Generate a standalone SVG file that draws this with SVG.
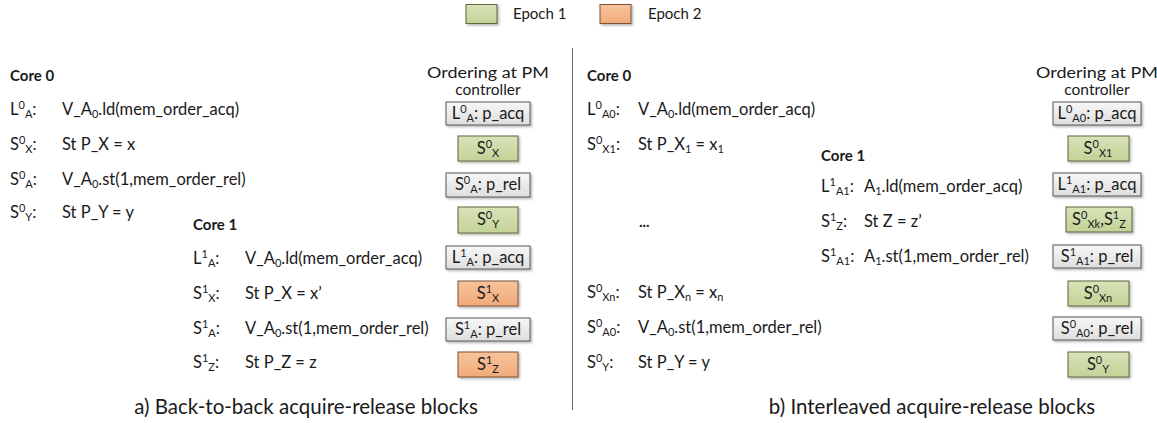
<svg xmlns="http://www.w3.org/2000/svg" width="1157" height="423" viewBox="0 0 1157 423">
  <defs>
    <linearGradient id="gGray" x1="0" y1="0" x2="0" y2="1">
      <stop offset="0" stop-color="#f7f7f7"/>
      <stop offset="1" stop-color="#dedede"/>
    </linearGradient>
    <linearGradient id="gGreen" x1="0" y1="0" x2="0" y2="1">
      <stop offset="0" stop-color="#d9e3b8"/>
      <stop offset="1" stop-color="#c3d297"/>
    </linearGradient>
    <linearGradient id="gOrange" x1="0" y1="0" x2="0" y2="1">
      <stop offset="0" stop-color="#f7c39c"/>
      <stop offset="1" stop-color="#f1aa79"/>
    </linearGradient>
    <filter id="shadow" x="-10%" y="-20%" width="130%" height="160%">
      <feDropShadow dx="1.5" dy="1.5" stdDeviation="1" flood-color="#000" flood-opacity="0.3"/>
    </filter>
  </defs>
  <style>
    text { font-family: Lato, "Liberation Sans", sans-serif; fill: #1a1a1a; }
    .t { font-size: 16.5px; }
    .h { font-size: 15px; font-weight: bold; }
    .hd { font-size: 15.5px; text-anchor: middle; }
    .lg { font-size: 15px; }
    .s { font-size: 11px; }
    .cap { font-size: 20.5px; text-anchor: middle; }
    .c { font-size: 16.5px; text-anchor: middle; }
    .gray { fill: url(#gGray); stroke: #595959; stroke-width: 1; filter: url(#shadow); }
    .green { fill: url(#gGreen); stroke: #5b6640; stroke-width: 1; filter: url(#shadow); }
    .orange { fill: url(#gOrange); stroke: #7a5338; stroke-width: 1; filter: url(#shadow); }
    .div { stroke: #6e6e6e; stroke-width: 1; }
  </style>

  <rect width="1157" height="423" fill="#ffffff"/>

  <!-- legend -->
  <g id="legend">
    <rect class="green" x="466" y="4.5" width="31" height="19"/>
    <text class="lg" x="513" y="19">Epoch 1</text>
    <rect class="orange" x="600" y="4.5" width="31" height="19"/>
    <text class="lg" x="648" y="19">Epoch 2</text>
  </g>

  <!-- panel separator -->
  <line class="div" x1="572.5" y1="48" x2="572.5" y2="410"/>

  <!-- ===== a) back-to-back blocks ===== -->
  <g id="a-core0">
    <text class="h" x="10" y="81">Core 0</text>
    <text class="t" x="10" y="115">L<tspan class="s" dy="-6">0</tspan><tspan class="s" dy="9">A</tspan><tspan dy="-3">:</tspan></text>
    <text class="t" x="62" y="115">V_A<tspan class="s" dy="3">0</tspan><tspan dy="-3">.ld(mem_order_acq)</tspan></text>
    <text class="t" x="10" y="150">S<tspan class="s" dy="-6">0</tspan><tspan class="s" dy="9">X</tspan><tspan dy="-3">:</tspan></text>
    <text class="t" x="62" y="150">St P_X = x</text>
    <text class="t" x="10" y="185">S<tspan class="s" dy="-6">0</tspan><tspan class="s" dy="9">A</tspan><tspan dy="-3">:</tspan></text>
    <text class="t" x="62" y="185">V_A<tspan class="s" dy="3">0</tspan><tspan dy="-3">.st(1,mem_order_rel)</tspan></text>
    <text class="t" x="10" y="218">S<tspan class="s" dy="-6">0</tspan><tspan class="s" dy="9">Y</tspan><tspan dy="-3">:</tspan></text>
    <text class="t" x="62" y="218">St P_Y = y</text>
  </g>

  <g id="a-core1">
    <text class="h" x="193" y="230">Core 1</text>
    <text class="t" x="193" y="264">L<tspan class="s" dy="-6">1</tspan><tspan class="s" dy="9">A</tspan><tspan dy="-3">:</tspan></text>
    <text class="t" x="245" y="264">V_A<tspan class="s" dy="3">0</tspan><tspan dy="-3">.ld(mem_order_acq)</tspan></text>
    <text class="t" x="193" y="299">S<tspan class="s" dy="-6">1</tspan><tspan class="s" dy="9">X</tspan><tspan dy="-3">:</tspan></text>
    <text class="t" x="245" y="299">St P_X = x’</text>
    <text class="t" x="193" y="334">S<tspan class="s" dy="-6">1</tspan><tspan class="s" dy="9">A</tspan><tspan dy="-3">:</tspan></text>
    <text class="t" x="245" y="334">V_A<tspan class="s" dy="3">0</tspan><tspan dy="-3">.st(1,mem_order_rel)</tspan></text>
    <text class="t" x="193" y="368">S<tspan class="s" dy="-6">1</tspan><tspan class="s" dy="9">Z</tspan><tspan dy="-3">:</tspan></text>
    <text class="t" x="245" y="368">St P_Z = z</text>
  </g>

  <g id="a-order">
    <text class="hd" x="488" y="78" textLength="122" lengthAdjust="spacingAndGlyphs">Ordering at PM</text>
    <text class="hd" x="488" y="95">controller</text>

    <g id="a-L0A">
      <rect class="gray" x="446" y="102" width="84" height="23"/>
      <text class="c" x="488" y="119">L<tspan class="s" dy="-6">0</tspan><tspan class="s" dy="9">A</tspan><tspan dy="-3">: p_acq</tspan></text>
    </g>
    <g id="a-S0X">
      <rect class="green" x="458" y="136" width="60" height="25"/>
      <text class="c" x="488" y="154">S<tspan class="s" dy="-6">0</tspan><tspan class="s" dy="9">X</tspan></text>
    </g>
    <g id="a-S0A">
      <rect class="gray" x="446" y="173" width="84" height="24"/>
      <text class="c" x="488" y="190">S<tspan class="s" dy="-6">0</tspan><tspan class="s" dy="9">A</tspan><tspan dy="-3">: p_rel</tspan></text>
    </g>
    <g id="a-S0Y">
      <rect class="green" x="458" y="207" width="60" height="26"/>
      <text class="c" x="488" y="225">S<tspan class="s" dy="-6">0</tspan><tspan class="s" dy="9">Y</tspan></text>
    </g>
    <g id="a-L1A">
      <rect class="gray" x="446" y="246" width="84" height="23"/>
      <text class="c" x="488" y="263">L<tspan class="s" dy="-6">1</tspan><tspan class="s" dy="9">A</tspan><tspan dy="-3">: p_acq</tspan></text>
    </g>
    <g id="a-S1X">
      <rect class="orange" x="458" y="281" width="60" height="25"/>
      <text class="c" x="488" y="299">S<tspan class="s" dy="-6">1</tspan><tspan class="s" dy="9">X</tspan></text>
    </g>
    <g id="a-S1A">
      <rect class="gray" x="446" y="318" width="84" height="23"/>
      <text class="c" x="488" y="335">S<tspan class="s" dy="-6">1</tspan><tspan class="s" dy="9">A</tspan><tspan dy="-3">: p_rel</tspan></text>
    </g>
    <g id="a-S1Z">
      <rect class="orange" x="458" y="352" width="60" height="25"/>
      <text class="c" x="488" y="370">S<tspan class="s" dy="-6">1</tspan><tspan class="s" dy="9">Z</tspan></text>
    </g>
  </g>

  <text class="cap" x="306" y="414">a) Back-to-back acquire-release blocks</text>

  <!-- ===== b) interleaved blocks ===== -->
  <g id="b-core0">
    <text class="h" x="587" y="81">Core 0</text>
    <text class="t" x="587" y="115">L<tspan class="s" dy="-6">0</tspan><tspan class="s" dy="9">A0</tspan><tspan dy="-3">:</tspan></text>
    <text class="t" x="638" y="115">V_A<tspan class="s" dy="3">0</tspan><tspan dy="-3">.ld(mem_order_acq)</tspan></text>
    <text class="t" x="587" y="150">S<tspan class="s" dy="-6">0</tspan><tspan class="s" dy="9">X1</tspan><tspan dy="-3">:</tspan></text>
    <text class="t" x="638" y="150">St P_X<tspan class="s" dy="3">1</tspan><tspan dy="-3"> = x</tspan><tspan class="s" dy="3">1</tspan></text>
    <text class="h" x="639" y="227" font-size="17">...</text>
    <text class="t" x="587" y="298">S<tspan class="s" dy="-6">0</tspan><tspan class="s" dy="9">Xn</tspan><tspan dy="-3">:</tspan></text>
    <text class="t" x="638" y="298">St P_X<tspan class="s" dy="3">n</tspan><tspan dy="-3"> = x</tspan><tspan class="s" dy="3">n</tspan></text>
    <text class="t" x="587" y="333">S<tspan class="s" dy="-6">0</tspan><tspan class="s" dy="9">A0</tspan><tspan dy="-3">:</tspan></text>
    <text class="t" x="638" y="333">V_A<tspan class="s" dy="3">0</tspan><tspan dy="-3">.st(1,mem_order_rel)</tspan></text>
    <text class="t" x="587" y="368">S<tspan class="s" dy="-6">0</tspan><tspan class="s" dy="9">Y</tspan><tspan dy="-3">:</tspan></text>
    <text class="t" x="638" y="368">St P_Y = y</text>
  </g>

  <g id="b-core1">
    <text class="h" x="821" y="161">Core 1</text>
    <text class="t" x="821" y="192">L<tspan class="s" dy="-6">1</tspan><tspan class="s" dy="9">A1</tspan><tspan dy="-3">:</tspan></text>
    <text class="t" x="864" y="192">A<tspan class="s" dy="3">1</tspan><tspan dy="-3">.ld(mem_order_acq)</tspan></text>
    <text class="t" x="821" y="227">S<tspan class="s" dy="-6">1</tspan><tspan class="s" dy="9">Z</tspan><tspan dy="-3">:</tspan></text>
    <text class="t" x="864" y="227">St Z = z’</text>
    <text class="t" x="821" y="262">S<tspan class="s" dy="-6">1</tspan><tspan class="s" dy="9">A1</tspan><tspan dy="-3">:</tspan></text>
    <text class="t" x="864" y="262">A<tspan class="s" dy="3">1</tspan><tspan dy="-3">.st(1,mem_order_rel)</tspan></text>
  </g>

  <g id="b-order">
    <text class="hd" x="1097" y="78" textLength="122" lengthAdjust="spacingAndGlyphs">Ordering at PM</text>
    <text class="hd" x="1097" y="95">controller</text>

    <g id="b-L0A0">
      <rect class="gray" x="1053" y="102" width="88" height="23"/>
      <text class="c" x="1097" y="119">L<tspan class="s" dy="-6">0</tspan><tspan class="s" dy="9">A0</tspan><tspan dy="-3">: p_acq</tspan></text>
    </g>
    <g id="b-S0X1">
      <rect class="green" x="1068" y="136" width="61" height="25"/>
      <text class="c" x="1098" y="154">S<tspan class="s" dy="-6">0</tspan><tspan class="s" dy="9">X1</tspan></text>
    </g>
    <g id="b-L1A1">
      <rect class="gray" x="1053" y="173" width="88" height="23"/>
      <text class="c" x="1097" y="190">L<tspan class="s" dy="-6">1</tspan><tspan class="s" dy="9">A1</tspan><tspan dy="-3">: p_acq</tspan></text>
    </g>
    <g id="b-S0XkS1Z">
      <rect class="green" x="1066" y="207" width="66" height="25"/>
      <text class="c" x="1099" y="225">S<tspan class="s" dy="-6">0</tspan><tspan class="s" dy="9">Xk</tspan><tspan dy="-3">,S</tspan><tspan class="s" dy="-6">1</tspan><tspan class="s" dy="9">Z</tspan></text>
    </g>
    <g id="b-S1A1">
      <rect class="gray" x="1053" y="245" width="88" height="23"/>
      <text class="c" x="1097" y="262">S<tspan class="s" dy="-6">1</tspan><tspan class="s" dy="9">A1</tspan><tspan dy="-3">: p_rel</tspan></text>
    </g>
    <g id="b-S0Xn">
      <rect class="green" x="1068" y="281" width="61" height="25"/>
      <text class="c" x="1098" y="299">S<tspan class="s" dy="-6">0</tspan><tspan class="s" dy="9">Xn</tspan></text>
    </g>
    <g id="b-S0A0">
      <rect class="gray" x="1053" y="317" width="88" height="23"/>
      <text class="c" x="1097" y="334">S<tspan class="s" dy="-6">0</tspan><tspan class="s" dy="9">A0</tspan><tspan dy="-3">: p_rel</tspan></text>
    </g>
    <g id="b-S0Y">
      <rect class="green" x="1068" y="352" width="61" height="25"/>
      <text class="c" x="1098" y="370">S<tspan class="s" dy="-6">0</tspan><tspan class="s" dy="9">Y</tspan></text>
    </g>
  </g>

  <text class="cap" x="932" y="414">b) Interleaved acquire-release blocks</text>
</svg>
